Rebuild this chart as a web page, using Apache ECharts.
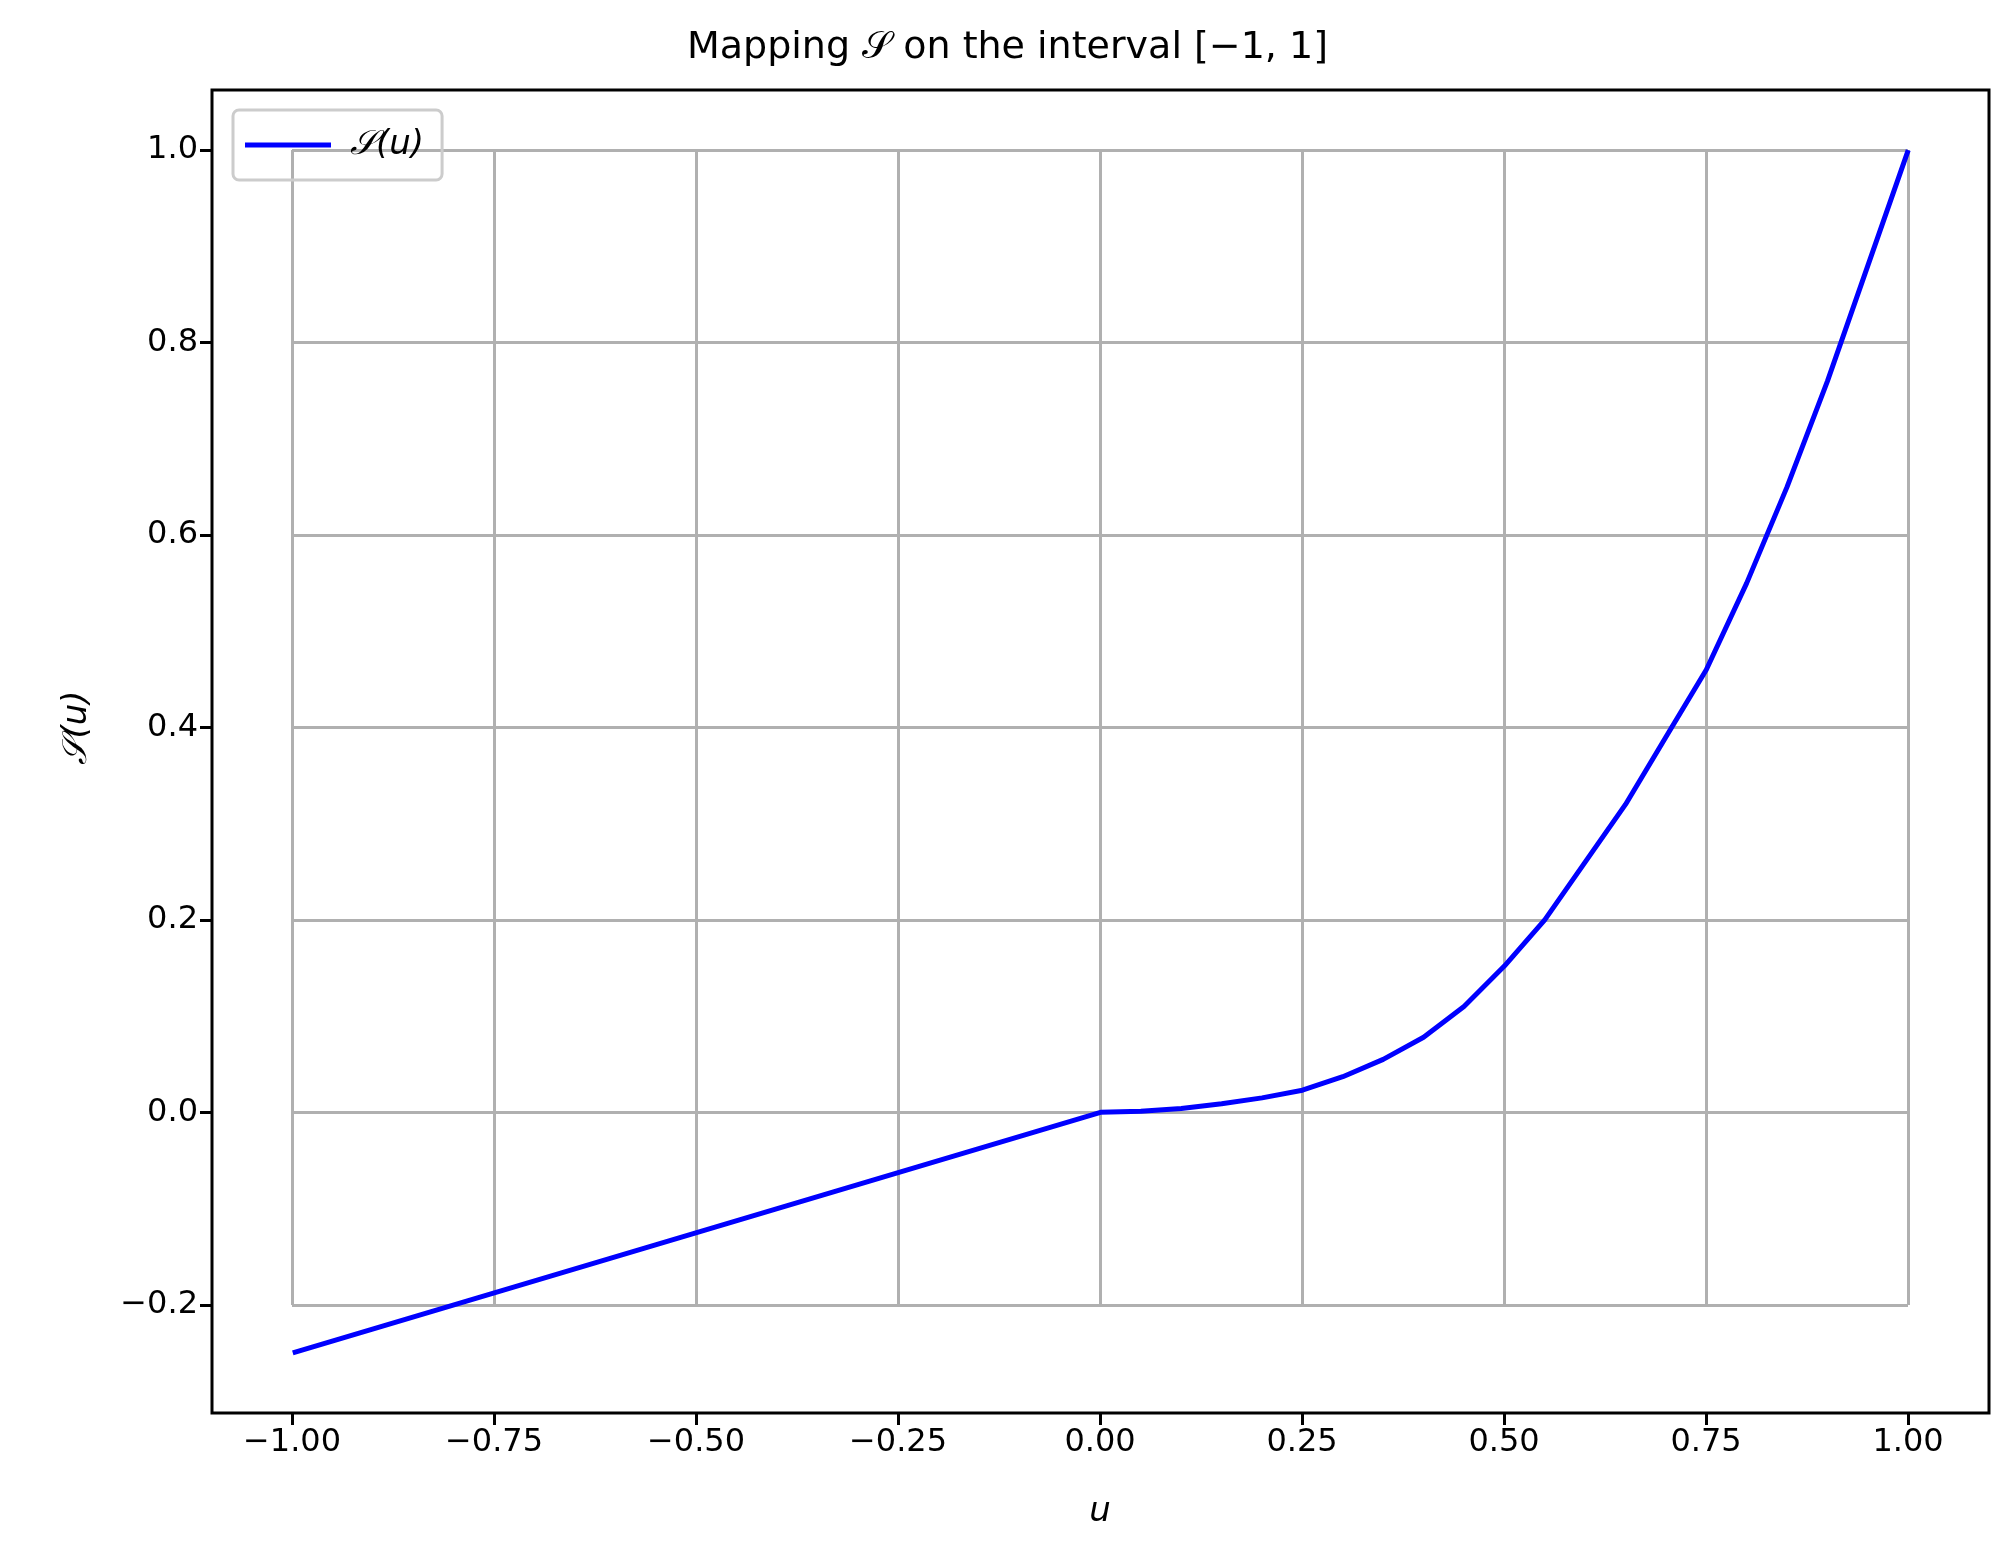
<!DOCTYPE html>
<html>
<head>
<meta charset="utf-8" />
<title>Mapping S</title>
<script src="https://cdn.jsdelivr.net/npm/echarts@6/dist/echarts.min.js"></script>
<style>
    html, body { margin: 0; padding: 0; background: #fff; }
    #chart { width: 2015px; height: 1557px; }
</style>
</head>
<body>
<div id="chart"></div>
<script>
// values
var uValues = [-1.0, -0.5, 0.0, 0.05, 0.1, 0.15, 0.2, 0.25, 0.3, 0.35, 0.4, 0.45, 0.5,
               0.55, 0.6, 0.65, 0.7, 0.75, 0.8, 0.85, 0.9, 0.95, 1.0];
var sValues = [-0.25, -0.125, 0.0, 0.001, 0.004, 0.009, 0.015, 0.023, 0.037, 0.055, 0.078, 0.11, 0.152,
               0.2, 0.26, 0.32, 0.39, 0.46, 0.55, 0.65, 0.76, 0.88, 1.0];
var xTicks = [-1.0, -0.75, -0.5, -0.25, 0.0, 0.25, 0.5, 0.75, 1.0];
var yTicks = [-0.2, 0.0, 0.2, 0.4, 0.6, 0.8, 1.0];

var font = 'DejaVu Sans';
var points = uValues.map(function (u, i) { return [u, sValues[i]]; });

var chart = echarts.init(document.getElementById('chart'));
chart.setOption({
    animation: false,
    textStyle: { fontFamily: font },
    title: {
        text: 'Mapping 𝒮 on the interval [−1, 1]',
        left: 'center', top: 24,
        textStyle: { fontFamily: font, fontSize: 38, fontWeight: 'normal', color: '#000' }
    },
    legend: {
        left: 233, top: 110,
        data: ['𝒮(u)'],
        itemWidth: 86, itemHeight: 5,
        padding: [18, 18, 18, 12],
        borderColor: '#cccccc', borderWidth: 3, borderRadius: 6,
        icon: 'rect',
        textStyle: { fontFamily: font, fontSize: 34, fontStyle: 'italic', color: '#000', padding: [0, 0, 0, 14] }
    },
    grid: [
        // frame grid: data range with matplotlib margins
        { left: 212, right: 26, top: 90, bottom: 144, show: true, borderColor: '#000', borderWidth: 3, backgroundColor: 'transparent' },
        // tick grid: the span from first to last tick
        { left: 292, right: 107, top: 150, bottom: 252 }
    ],
    xAxis: [
        { gridIndex: 0, type: 'value', min: -1.1, max: 1.1, show: false },
        {
            gridIndex: 1, type: 'value', min: -1, max: 1, interval: 0.25, offset: 108,
            axisLine: { show: false, onZero: false },
            axisTick: { show: true, length: 12, lineStyle: { color: '#000', width: 3 } },
            axisLabel: { fontFamily: font, fontSize: 32, color: '#000', margin: 14,
                formatter: function (v) { return v.toFixed(2).replace('-', '−'); } },
            splitLine: { show: true, lineStyle: { color: '#b0b0b0', width: 3 } },
            name: 'u', nameLocation: 'middle', nameGap: 82,
            nameTextStyle: { fontFamily: font, fontSize: 34, fontStyle: 'italic', color: '#000' }
        }
    ],
    yAxis: [
        { gridIndex: 0, type: 'value', min: -0.3125, max: 1.0625, show: false },
        {
            gridIndex: 1, type: 'value', min: -0.2, max: 1.0, interval: 0.2, offset: 80,
            axisLine: { show: false, onZero: false },
            axisTick: { show: true, length: 12, lineStyle: { color: '#000', width: 3 } },
            axisLabel: { fontFamily: font, fontSize: 32, color: '#000', margin: 14,
                formatter: function (v) { return v.toFixed(1).replace('-', '−'); } },
            splitLine: { show: true, lineStyle: { color: '#b0b0b0', width: 3 } },
            name: '𝒮(u)', nameLocation: 'middle', nameGap: 118, nameRotate: 90,
            nameTextStyle: { fontFamily: font, fontSize: 34, fontStyle: 'italic', color: '#000' }
        }
    ],
    series: [{
        name: '𝒮(u)',
        type: 'line',
        xAxisIndex: 0, yAxisIndex: 0,
        data: points,
        showSymbol: false,
        color: '#0000ff',
        lineStyle: { color: '#0000ff', width: 5 },
        z: 5
    }]
});
</script>
</body>
</html>
